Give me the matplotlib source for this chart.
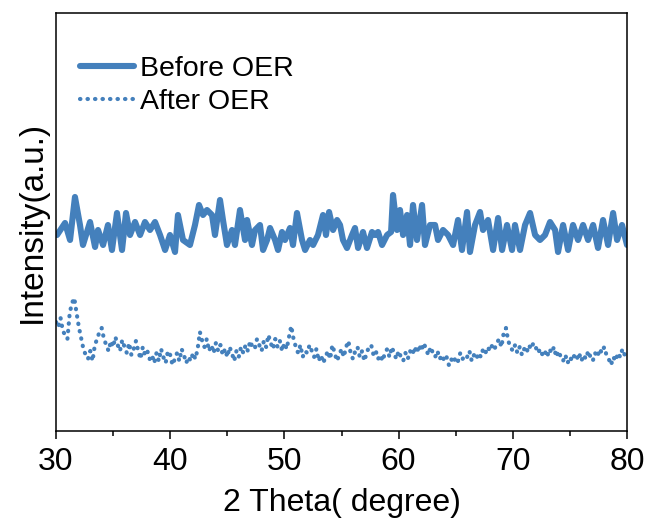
import matplotlib
matplotlib.use("Agg")
import matplotlib.pyplot as plt
import numpy as np
from matplotlib.ticker import MultipleLocator

plt.rcParams['font.family'] = ['Liberation Sans', 'DejaVu Sans']

# Before OER: (2theta, intensity)
before_x = [30.09, 30.79, 31.23, 31.66, 32.10, 32.36, 32.98, 33.42, 33.68, 34.12,
            34.55, 34.90, 35.34, 35.78, 36.13, 36.48, 36.92, 37.36, 37.79, 38.23,
            38.67, 39.11, 39.55, 39.98, 40.42, 40.68, 41.12, 41.73, 42.17, 42.52,
            42.87, 43.22, 43.66, 43.92, 44.36, 44.62, 44.97, 45.41, 45.67, 46.11,
            46.55, 46.73, 47.16, 47.43, 47.86, 48.13, 48.48, 48.74, 49.18, 49.44,
            49.79, 50.05, 50.49, 50.75, 51.10, 51.54, 51.81, 52.24, 52.51, 52.94,
            53.38, 53.64, 53.91, 54.26, 54.61, 54.87, 55.13, 55.48, 55.92, 56.18,
            56.45, 56.88, 57.23, 57.67, 57.94, 58.20, 58.55, 58.99, 59.34, 59.51,
            59.86, 60.12, 60.39, 60.74, 61.00, 61.26, 61.61, 62.05, 62.31, 62.75,
            63.19, 63.45, 63.89, 64.33, 64.77, 65.20, 65.55, 65.99, 66.25, 66.69,
            67.13, 67.39, 67.83, 68.27, 68.71, 69.06, 69.49, 69.93, 70.19, 70.63,
            71.07, 71.51, 71.95, 72.38, 72.82, 73.26, 73.70, 73.96, 74.40, 74.84,
            75.27, 75.71, 76.15, 76.59, 77.03, 77.46, 77.90, 78.34, 78.78, 79.13,
            79.56, 80.00]
before_y = [196, 208, 191, 234, 206, 186, 209, 184, 201, 186,
            206, 181, 218, 181, 218, 196, 209, 196, 209, 201,
            209, 196, 181, 196, 179, 216, 191, 186, 206, 226,
            216, 221, 216, 196, 231, 211, 186, 201, 186, 221,
            191, 211, 186, 201, 206, 181, 191, 203, 191, 181,
            199, 191, 203, 186, 218, 191, 181, 191, 186, 196,
            216, 196, 219, 201, 211, 206, 191, 183, 196, 203,
            183, 199, 183, 199, 196, 199, 186, 196, 199, 236,
            201, 221, 196, 216, 186, 226, 191, 226, 186, 206,
            206, 191, 201, 196, 186, 211, 181, 219, 179, 206,
            219, 201, 211, 181, 213, 181, 206, 181, 206, 181,
            206, 218, 196, 191, 196, 209, 201, 179, 206, 181,
            206, 191, 206, 191, 206, 183, 211, 186, 218, 191,
            206, 186]

# After OER: scan step 0.2 degree from 30 to 80
after_x = np.linspace(30, 80, 251)
after_y = [109, 104, 113, 100, 96, 92, 118, 128, 133, 118,
           104, 93, 82, 76, 72, 80, 70, 86, 92, 99,
           103, 92, 86, 80, 90, 84, 94, 86, 80, 91,
           84, 78, 88, 76, 82, 90, 80, 72, 84, 76,
           80, 72, 76, 68, 78, 70, 82, 74, 68, 80,
           76, 66, 72, 78, 70, 82, 76, 68, 74, 70,
           78, 72, 82, 99, 90, 84, 92, 80, 86, 78,
           88, 80, 86, 76, 82, 74, 84, 78, 70, 80,
           74, 84, 78, 86, 80, 90, 84, 82, 92, 86,
           80, 90, 84, 96, 88, 82, 92, 84, 90, 80,
           88, 82, 94, 105, 92, 84, 78, 86, 74, 80,
           78, 86, 80, 74, 82, 70, 76, 68, 74, 80,
           72, 86, 78, 70, 76, 82, 74, 84, 90, 78,
           72, 80, 84, 74, 80, 70, 78, 84, 86, 76,
           80, 72, 76, 70, 78, 82, 74, 84, 78, 72,
           80, 74, 70, 78, 72, 80, 76, 84, 78, 86,
           80, 88, 82, 76, 84, 78, 74, 80, 72, 76,
           70, 74, 66, 72, 68, 74, 70, 78, 72, 76,
           74, 80, 70, 76, 72, 78, 74, 82, 78, 84,
           80, 86, 82, 88, 92, 84, 98, 103, 90, 84,
           80, 86, 78, 84, 76, 82, 78, 86, 82, 88,
           84, 78, 82, 76, 80, 74, 82, 78, 84, 74,
           80, 74, 70, 76, 68, 74, 70, 76, 72, 78,
           70, 76, 72, 80, 74, 70, 78, 74, 82, 78,
           84, 76, 72, 66, 74, 70, 78, 74, 82, 76,
           80]

color = '#4480BC'

fig = plt.figure(figsize=(6.52, 5.24), dpi=100)
ax = fig.add_axes([0.0859, 0.1775, 0.8758, 0.7977])

ax.plot(before_x, before_y, color=color, lw=4.4, solid_joinstyle='round',
        solid_capstyle='round', label='Before OER')
ax.plot(after_x, after_y, color=color, lw=3.0, linestyle=(0, (0.1, 1.7)),
        dash_capstyle='round', label='After OER')

ax.set_xlim(30, 80)
ax.set_ylim(0, 418)
ax.xaxis.set_major_locator(MultipleLocator(10))
ax.xaxis.set_minor_locator(MultipleLocator(5))
ax.tick_params(axis='x', which='major', direction='out', length=5.8, width=1.1,
               labelsize=23, pad=6)
ax.tick_params(axis='x', which='minor', direction='out', length=3.6, width=1.1)
ax.tick_params(axis='y', left=False, labelleft=False)
for s in ax.spines.values():
    s.set_linewidth(1.1)

ax.set_xlabel('2 Theta( degree)', fontsize=23, labelpad=8)
ax.set_ylabel('Intensity(a.u.)', fontsize=24, labelpad=6)

ax.legend(loc='upper left', bbox_to_anchor=(0.042, 0.898), frameon=False,
          fontsize=20.5, handlelength=1.9, handletextpad=0.22, labelspacing=0.25,
          borderpad=0, borderaxespad=0)

fig.savefig('out.png', dpi=100)
